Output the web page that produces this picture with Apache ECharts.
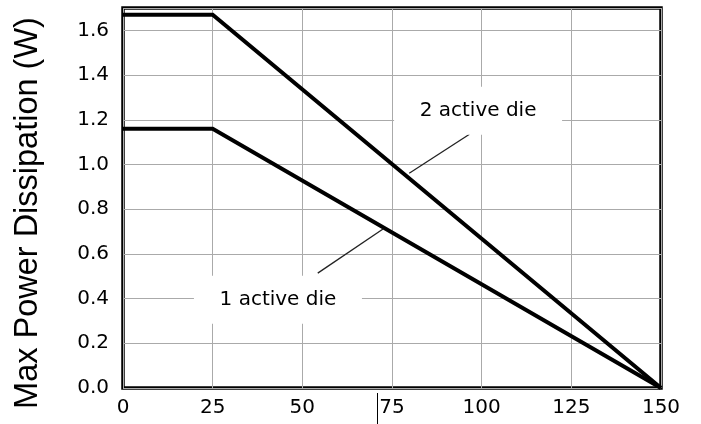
<!DOCTYPE html>
<html>
<head>
<meta charset="utf-8">
<script src="https://cdn.jsdelivr.net/npm/echarts@6/dist/echarts.min.js"></script>
<style>
  html, body { margin: 0; padding: 0; background: #fff; }
  #chart { width: 701px; height: 424px; }
</style>
</head>
<body>
<div id="chart"></div>
<script>
// ambient temperature (x) and derating curves (W)
var temps = [0, 25, 150];
var twoDie = [1.67, 1.67, 0];
var oneDie = [1.16, 1.16, 0];

// annotation text boxes and leader lines, in data units
var noteLabels = ['2 active die', '1 active die'];
var noteAt = [[99, 1.24], [43.2, 0.395]];
var leaders = [
  [[96.6, 1.135], [79.8, 0.961]],
  [[54.3, 0.514], [72.5, 0.711]]
];

function pairs(xs, ys) {
  return xs.map(function (x, i) { return [x, ys[i]]; });
}

var font = 'DejaVu Sans';
var titleFont = 'Liberation Sans';

var chart = echarts.init(document.getElementById('chart'));
var option = {
  backgroundColor: '#fff',
  animation: false,
  grid: {
    left: 123, right: 40, top: 8, bottom: 36,
    outerBoundsMode: 'none',
    containLabel: false,
    show: true,
    borderColor: '#000',
    borderWidth: 3.5
  },
  xAxis: {
    type: 'value',
    min: 0, max: 150, interval: 25,
    axisLine: { show: false },
    axisTick: { show: false },
    axisLabel: {
      margin: 10,
      color: '#000',
      fontFamily: font,
      fontSize: 20
    },
    splitLine: { show: true, lineStyle: { color: '#aaa', width: 1 } }
  },
  yAxis: {
    type: 'value',
    min: 0, max: 1.7, interval: 0.2,
    name: 'Max Power Dissipation (W)',
    nameLocation: 'middle',
    nameRotate: 90,
    nameGap: 78,
    nameTextStyle: {
      color: '#000',
      fontFamily: titleFont,
      fontSize: 32.5,
      padding: [0, 0, 0, -30]
    },
    axisLine: { show: false },
    axisTick: { show: false },
    axisLabel: {
      margin: 14,
      color: '#000',
      fontFamily: font,
      fontSize: 20,
      showMaxLabel: false,
      formatter: function (v) { return v.toFixed(1); }
    },
    splitLine: { show: true, lineStyle: { color: '#aaa', width: 1 } }
  },
  series: [
    {
      name: '2 active die',
      type: 'line',
      data: pairs(temps, twoDie),
      symbol: 'none',
      lineStyle: { color: '#000', width: 4, join: 'miter' },
      z: 3
    },
    {
      name: '1 active die',
      type: 'line',
      data: pairs(temps, oneDie),
      symbol: 'none',
      lineStyle: { color: '#000', width: 4, join: 'miter' },
      z: 3,
      markPoint: {
        silent: true,
        symbol: 'rect',
        symbolSize: [168, 48],
        itemStyle: { color: '#fff' },
        label: {
          show: true,
          position: 'inside',
          color: '#000',
          fontFamily: font,
          fontSize: 20,
          formatter: function (p) { return p.name; }
        },
        data: noteLabels.map(function (t, i) {
          return { name: t, coord: noteAt[i] };
        })
      },
      markLine: {
        silent: true,
        symbol: ['none', 'none'],
        label: { show: false },
        lineStyle: { color: '#222', width: 1.3, type: 'solid' },
        data: leaders.map(function (l) {
          return [{ coord: l[0] }, { coord: l[1] }];
        })
      }
    }
  ],
  graphic: [
    {
      type: 'line',
      shape: { x1: 377.5, y1: 393, x2: 377.5, y2: 424 },
      style: { stroke: '#000', lineWidth: 1 }
    }
  ]
};
chart.setOption(option);
</script>
</body>
</html>
